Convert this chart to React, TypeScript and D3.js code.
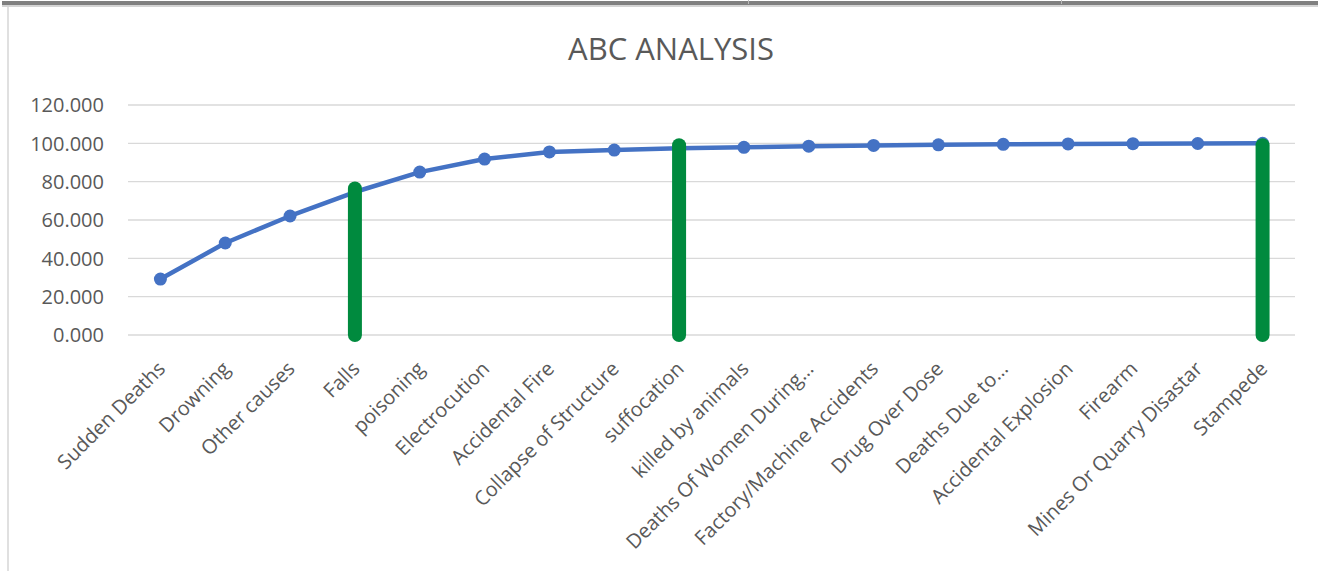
import React from 'react'
import * as d3 from 'd3'

const categories = [
  'Sudden Deaths',
  'Drowning',
  'Other causes',
  'Falls',
  'poisoning',
  'Electrocution',
  'Accidental Fire',
  'Collapse of Structure',
  'suffocation',
  'killed by animals',
  'Deaths Of Women During…',
  'Factory/Machine Accidents',
  'Drug Over Dose',
  'Deaths Due to…',
  'Accidental Explosion',
  'Firearm',
  'Mines Or Quarry Disastar',
  'Stampede',
]

// cumulative percentage
const cumulative = [
  29.2, 48.0, 62.1, 74.6, 85.0, 91.8, 95.5, 96.5, 97.4, 97.9, 98.5, 98.9,
  99.2, 99.5, 99.7, 99.8, 99.9, 100.0,
]

// A / B / C cut-off markers
const cutCategories = ['Falls', 'suffocation', 'Stampede']
const cutValues = [76.5, 99.0, 99.0]

const yTicks = [0, 20, 40, 60, 80, 100, 120]

const W = 1318
const H = 571
const FONT = '"Open Sans", sans-serif'
const TEXT = '#595959'

const App: React.FC = () => {
  const margin = { top: 105, right: 23, bottom: 236, left: 128 }
  const plotW = W - margin.left - margin.right
  const plotH = H - margin.top - margin.bottom

  const x = d3.scaleBand().domain(categories).range([0, plotW]).padding(0)
  const y = d3.scaleLinear().domain([0, 120]).range([plotH, 0])
  const cx = (c: string) => (x(c) ?? 0) + x.bandwidth() / 2

  const line = d3
    .line<number>()
    .x((_, i) => cx(categories[i]))
    .y((d) => y(d))

  return (
    <svg
      width={W}
      height={H}
      style={{ position: 'absolute', left: 0, top: 0, background: '#fff' }}
    >
      {/* frame bits */}
      <rect x={2} y={1} width={W - 2} height={4} fill="#808080" />
      <rect x={2} y={5} width={W - 2} height={2} fill="#d4d4d4" />
      <rect x={748} y={0} width={1} height={4} fill="#bbb" />
      <rect x={1061} y={0} width={1} height={4} fill="#bbb" />
      <rect x={7} y={7} width={2} height={H - 7} fill="#e0e0e0" />

      <text
        x={671}
        y={60}
        textAnchor="middle"
        fontFamily={FONT}
        fontSize={31}
        fill={TEXT}
      >
        ABC ANALYSIS
      </text>

      <g transform={`translate(${margin.left},${margin.top})`}>
        {yTicks.map((t) => (
          <g key={t}>
            <line
              x1={0}
              x2={plotW}
              y1={y(t)}
              y2={y(t)}
              stroke="#d9d9d9"
              strokeWidth={1.3}
            />
            <text
              x={-24}
              y={y(t)}
              dy="0.36em"
              textAnchor="end"
              fontFamily={FONT}
              fontSize={20}
              fill={TEXT}
            >
              {d3.format('.3f')(t)}
            </text>
          </g>
        ))}

        <path
          d={line(cumulative) ?? ''}
          fill="none"
          stroke="#4472C4"
          strokeWidth={4.5}
          strokeLinejoin="round"
        />
        {cumulative.map((v, i) => (
          <circle key={i} cx={cx(categories[i])} cy={y(v)} r={6.5} fill="#4472C4" />
        ))}

        {cutCategories.map((c, i) => (
          <line
            key={c}
            x1={cx(c)}
            x2={cx(c)}
            y1={y(0)}
            y2={y(cutValues[i])}
            stroke="#008A3E"
            strokeWidth={14}
            strokeLinecap="round"
          />
        ))}

        {categories.map((c) => (
          <text
            key={c}
            transform={`translate(${cx(c) + 6},${plotH + 35}) rotate(-45)`}
            textAnchor="end"
            fontFamily={FONT}
            fontSize={20}
            fill={TEXT}
          >
            {c}
          </text>
        ))}
      </g>
    </svg>
  )
}

export default App
